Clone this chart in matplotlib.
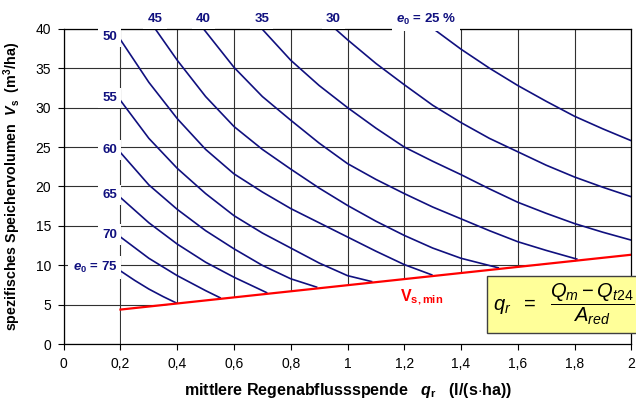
import numpy as np
import matplotlib.pyplot as plt
from matplotlib.patches import Rectangle

plt.rcParams['font.family'] = ['Liberation Sans', 'DejaVu Sans']
plt.rcParams['mathtext.fontset'] = 'custom'
plt.rcParams['mathtext.rm'] = 'Liberation Sans'
plt.rcParams['mathtext.it'] = 'Liberation Sans:italic'
plt.rcParams['mathtext.bf'] = 'Liberation Sans:bold'
plt.rcParams['mathtext.bfit'] = 'Liberation Sans:italic:bold'

# Vs,min line
q_min = [0.2, 2.0]
vs_min = [4.4, 11.35]

# e0 curves
q_75 = [0.2, 0.25, 0.3, 0.35, 0.396]
vs_75 = [9.3, 8.1, 7.0, 6.05, 5.25]
q_70 = [0.2, 0.3, 0.4, 0.5, 0.551]
vs_70 = [13.6, 10.9, 8.7, 6.8, 5.9]
q_65 = [0.2, 0.3, 0.4, 0.5, 0.6, 0.715]
vs_65 = [18.6, 15.4, 12.7, 10.4, 8.5, 6.55]
q_60 = [0.2, 0.3, 0.4, 0.5, 0.6, 0.7, 0.8, 0.891]
vs_60 = [24.3, 20.2, 17.1, 14.4, 12.1, 10.0, 8.3, 7.25]
q_55 = [0.2, 0.3, 0.4, 0.5, 0.6, 0.7, 0.8, 0.9, 1.0, 1.085]
vs_55 = [30.9, 26.1, 22.3, 19.1, 16.3, 14.1, 12.2, 10.3, 8.7, 7.95]
q_50 = [0.2, 0.3, 0.4, 0.5, 0.6, 0.7, 0.8, 0.9, 1.0, 1.1, 1.2, 1.297]
vs_50 = [38.6, 33.2, 28.6, 24.7, 21.6, 19.3, 17.2, 15.4, 13.6, 11.8, 10.1, 8.8]
q_45 = [0.322, 0.4, 0.5, 0.6, 0.7, 0.8, 0.9, 1.0, 1.1, 1.2, 1.3, 1.4, 1.531]
vs_45 = [40, 36.0, 31.4, 27.6, 24.7, 22.2, 19.8, 17.6, 15.6, 13.8, 12.2, 10.9, 9.7]
q_40 = [0.492, 0.6, 0.7, 0.8, 0.9, 1.0, 1.1, 1.2, 1.3, 1.4, 1.5, 1.6, 1.7, 1.808]
vs_40 = [40, 35.1, 31.4, 28.4, 25.5, 22.9, 20.9, 19.1, 17.4, 15.9, 14.4, 13.0, 11.9, 10.8]
q_35 = [0.698, 0.8, 0.9, 1.0, 1.1, 1.2, 1.3, 1.4, 1.5, 1.6, 1.7, 1.8, 1.9, 2.0]
vs_35 = [40, 36.0, 32.8, 30.0, 27.4, 25.0, 23.2, 21.5, 19.7, 18.0, 16.6, 15.3, 14.2, 13.2]
q_30 = [0.956, 1.0, 1.1, 1.2, 1.3, 1.4, 1.5, 1.6, 1.7, 1.8, 1.9, 2.0]
vs_30 = [40, 38.6, 35.6, 32.9, 30.3, 28.1, 26.1, 24.4, 22.7, 21.2, 19.9, 18.7]
q_25 = [1.302, 1.4, 1.5, 1.6, 1.7, 1.8, 1.9, 2.0]
vs_25 = [40, 37.4, 35.0, 32.8, 30.8, 28.9, 27.3, 25.8]

x_ticks = [0, 0.2, 0.4, 0.6, 0.8, 1.0, 1.2, 1.4, 1.6, 1.8, 2.0]
x_ticklabels = ['0', '0,2', '0,4', '0,6', '0,8', '1', '1,2', '1,4', '1,6', '1,8', '2']
y_ticks = [0, 5, 10, 15, 20, 25, 30, 35, 40]

left_labels = ['50', '55', '60', '65', '70', r'$\mathbfit{e}_{\mathbf{0}}$ = 75']
left_label_y = [39.0, 31.25, 24.6, 18.9, 13.9, 9.75]
top_labels = ['45', '40', '35', '30', r'$\mathbfit{e}_{\mathbf{0}}$ = 25 %']
top_label_x = [0.322, 0.492, 0.698, 0.95, 1.277]

NAVY = '#10107f'


def main():
    fig = plt.figure(figsize=(6.36, 4.03), dpi=100)
    ax = fig.add_axes([0.1002, 0.1457, 0.8924, 0.7831])
    ax.set_xlim(0, 2)
    ax.set_ylim(0, 40)

    ax.set_axisbelow(True)
    ax.grid(True, color='#303030', lw=0.8)
    for s in ax.spines.values():
        s.set_color('black')
        s.set_linewidth(0.9)

    # blank area below the minimum volume line
    ax.fill_between(q_min, 0, vs_min, color='white', lw=0, zorder=1)

    curves = [(q_75, vs_75), (q_70, vs_70), (q_65, vs_65), (q_60, vs_60),
              (q_55, vs_55), (q_50, vs_50), (q_45, vs_45), (q_40, vs_40),
              (q_35, vs_35), (q_30, vs_30), (q_25, vs_25)]
    for q, vs in curves:
        ax.plot(q, vs, color=NAVY, lw=1.2, zorder=2)

    ax.plot(q_min, vs_min, color='#ff0000', lw=1.6, zorder=2.2)
    ax.text(1.186, 6.0, r'$\mathbf{V}_{\mathbf{s,min}}$', color='#ff0000',
            fontsize=11.5, ha='left', va='center')

    box = dict(facecolor='white', edgecolor='none', pad=3.0)
    for lab, y in zip(left_labels, left_label_y):
        ax.text(0.188, y, lab, color=NAVY, fontsize=9.5, fontweight='bold',
                ha='right', va='center', bbox=box, zorder=3)
    for lab, x in zip(top_labels, top_label_x):
        ax.text(x, 41.2, lab, color=NAVY, fontsize=9.5, fontweight='bold',
                ha='center', va='center', bbox=box, zorder=3, clip_on=False)

    ax.set_xticks(x_ticks)
    ax.set_xticklabels(x_ticklabels)
    ax.set_yticks(y_ticks)
    ax.tick_params(labelsize=10, length=4, width=0.8, pad=5, colors='black')

    ax.set_xlabel(r'mittlere Regenabflussspende   $\mathbfit{q}_{\mathbf{r}}$   (l/(s$\cdot$ha))',
                  fontsize=11.5, fontweight='bold', labelpad=7)
    ax.set_ylabel(r'spezifisches Speichervolumen  $\mathbfit{V}_{\mathbf{s}}$  (m$^{\mathbf{3}}$/ha)',
                  fontsize=10.3, fontweight='bold', labelpad=9)

    # formula box
    fig.patches.append(Rectangle((486.7 / 636, 1 - 333.3 / 403), 0.3, 57.3 / 403,
                                 transform=fig.transFigure, facecolor='#ffff99',
                                 edgecolor='#404040', lw=1, zorder=5))
    fig.text(0.886, 0.244, r'$q_r\ \ =\ \ \dfrac{Q_m - Q_{t24}}{A_{red}}$',
             fontsize=14.5, ha='center', va='center', zorder=6)

    fig.savefig('out.png', dpi=100)


if __name__ == "__main__":
    main()
